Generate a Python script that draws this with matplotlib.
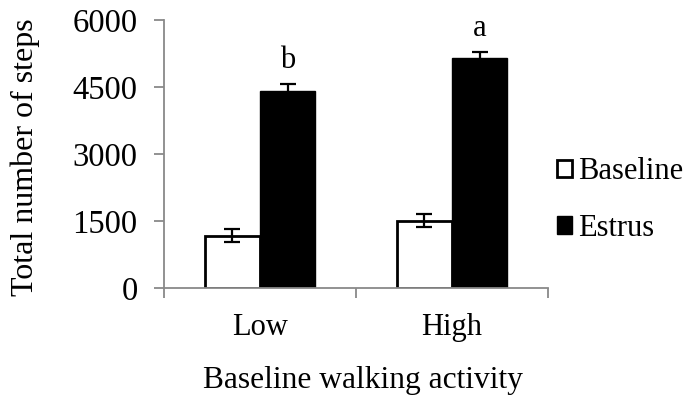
import numpy as np
from matplotlib import pyplot as plt
from matplotlib.patches import Patch

# 步数数据
categories = ["Low", "High"]
baseline = [1170, 1510]
baseline_err = [150, 150]
estrus = [4420, 5150]
estrus_err = [140, 140]
letters = ["b", "a"]

fs = 22
plt.rcParams['font.family'] = ['Liberation Serif', 'DejaVu Serif']
fig = plt.figure(figsize=(6.91, 3.96), dpi=100, facecolor='w')
ax = fig.add_axes([0.2373, 0.2727, 0.5557, 0.6768])

x = np.arange(len(categories))
w = 0.287
ax.bar(x - w / 2, baseline, w, color='white', edgecolor='black', linewidth=2, zorder=2)
ax.bar(x + w / 2, estrus, w, color='black', edgecolor='black', linewidth=1, zorder=2)
ax.errorbar(x - w / 2, baseline, yerr=baseline_err, fmt='none', ecolor='black',
            elinewidth=1.6, capsize=5.8, capthick=1.6, zorder=3)
ax.errorbar(x + w / 2, estrus, yerr=estrus_err, fmt='none', ecolor='black',
            elinewidth=1.6, capsize=5.8, capthick=1.6, zorder=3)

# 显著性字母
for i in range(len(categories)):
    ax.text(x[i] + w / 2, estrus[i] + estrus_err[i] + 200, letters[i],
            ha='center', va='bottom', fontsize=fs)

ax.set_xlim(-0.5, 1.5)
ax.set_ylim(0, 6000)
ax.set_yticks(range(0, 6001, 1500))
ax.set_xticks([-0.5, 0.5, 1.5])
ax.set_xticklabels([])
ax.set_xticks(x, minor=True)
ax.set_xticklabels(categories, minor=True, fontsize=fs)
ax.tick_params(axis='x', which='minor', length=0, pad=18)
ax.tick_params(axis='x', which='major', length=7, color='#898989', width=1.3)
ax.tick_params(axis='y', length=7, color='#898989', width=1.3, labelsize=23.5, pad=12)

for s in ['top', 'right']:
    ax.spines[s].set_visible(False)
for s in ['left', 'bottom']:
    ax.spines[s].set_color('#898989')
    ax.spines[s].set_linewidth(1.3)

ax.set_ylabel("Total number of steps", fontsize=23)
ax.set_xlabel("Baseline walking activity", fontsize=22.7)
ax.yaxis.set_label_coords(-0.324, 0.489)
ax.xaxis.set_label_coords(0.518, -0.29)

handles = [Patch(facecolor='white', edgecolor='black', linewidth=2, label='Baseline'),
           Patch(facecolor='black', edgecolor='black', label='Estrus')]
fig.legend(handles=handles, loc='center left', bbox_to_anchor=(0.766, 0.495),
           frameon=False, fontsize=fs, handlelength=0.5, handleheight=0.5,
           handletextpad=0.2, labelspacing=0.9)

plt.savefig('out.png')
